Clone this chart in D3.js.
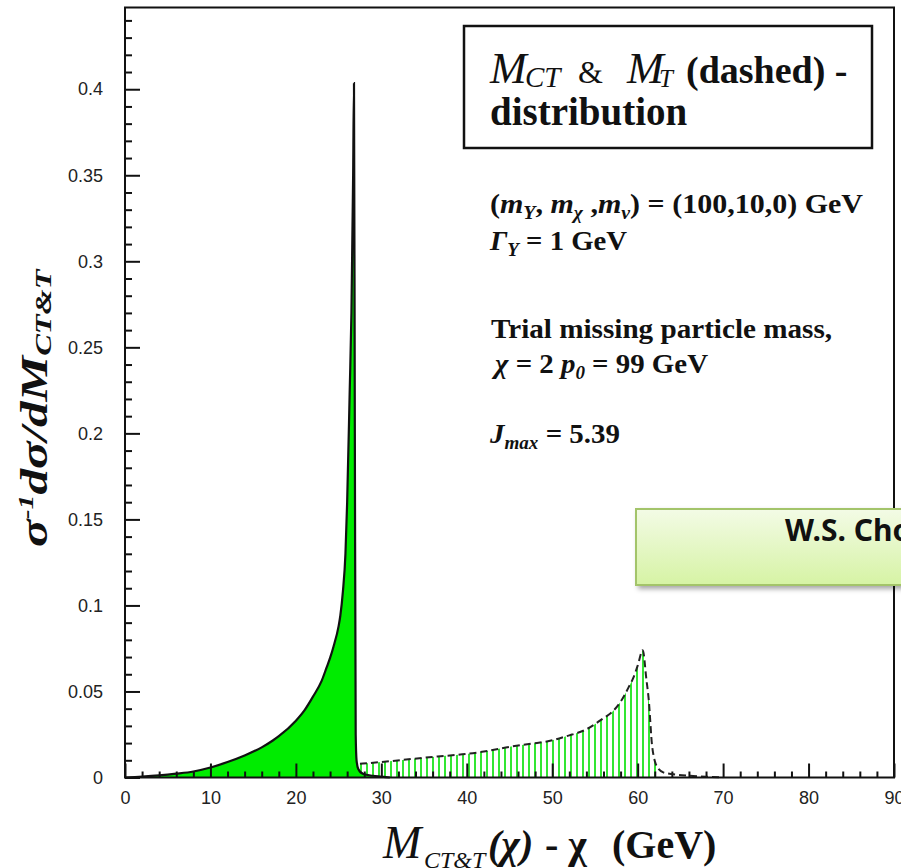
<!DOCTYPE html>
<html>
<head>
<meta charset="utf-8">
<script src="https://cdn.jsdelivr.net/npm/d3@7.9.0/dist/d3.min.js"></script>
<style>
  body { margin: 0; background: #fff; }
  svg { display: block; }
</style>
</head>
<body>
<svg id="chart" width="901" height="868"></svg>
<script>
// M_CT distribution (solid line, green fill)
const mctX = [0, 2, 4, 6, 8, 10, 12, 14, 16, 17.3, 18, 20, 21, 22, 23, 23.6, 24, 24.4, 25, 25.2, 25.5, 25.8, 26.0, 26.3, 26.5, 26.7, 26.8, 26.9, 27.0, 27.1, 27.3, 27.9, 29, 30, 31];
const mctY = [0, 0.0005, 0.0012, 0.0022, 0.0035, 0.0058, 0.009, 0.0128, 0.0175, 0.0215, 0.024, 0.033, 0.039, 0.047, 0.056, 0.064, 0.0695, 0.076, 0.088, 0.094, 0.108, 0.13, 0.16, 0.225, 0.27, 0.35, 0.4035, 0.2, 0.025, 0.01, 0.005, 0.002, 0.001, 0.0005, 0];

// M_T distribution (dashed line, hatched)
const mtX = [27.5, 30, 32.5, 35, 37.5, 40, 42.5, 45, 47.5, 50, 52, 53, 54, 55, 56, 57, 58, 59, 59.5, 60, 60.6, 61, 61.3, 61.7, 62.3, 63, 64, 66, 68, 70];
const mtY = [0.008, 0.009, 0.0102, 0.0115, 0.0126, 0.0137, 0.0155, 0.0178, 0.0196, 0.0216, 0.0245, 0.026, 0.028, 0.031, 0.0345, 0.038, 0.044, 0.053, 0.058, 0.065, 0.074, 0.058, 0.045, 0.018, 0.006, 0.003, 0.002, 0.001, 0.0005, 0];

// axis ticks
const xMajor = [0, 10, 20, 30, 40, 50, 60, 70, 80, 90];
const xMinor = d3.range(0, 91, 2).filter(v => v % 10 !== 0);
const yMajor = [0, 0.05, 0.1, 0.15, 0.2, 0.25, 0.3, 0.35, 0.4];
const yMinor = d3.range(1, 45).map(v => v / 100).filter(v => Math.round(v * 100) % 5 !== 0);

const svg = d3.select("#chart");
const pLeft = 125, pRight = 894, pTop = 7.5, pBottom = 777.5;

const x = d3.scaleLinear().domain([0, 90]).range([pLeft, pRight]);
const y = d3.scaleLinear().domain([0, 0.4475]).range([pBottom, pTop]);

svg.append("rect").attr("width", 901).attr("height", 868).attr("fill", "#fff");

const defs = svg.append("defs");
defs.append("pattern")
    .attr("id", "hatch")
    .attr("patternUnits", "userSpaceOnUse")
    .attr("width", 6).attr("height", 10)
    .append("rect")
    .attr("x", 0).attr("y", 0).attr("width", 2).attr("height", 10)
    .attr("fill", "#33e633");

const grad = defs.append("linearGradient")
    .attr("id", "boxGrad").attr("x1", 0).attr("y1", 0).attr("x2", 0).attr("y2", 1);
grad.append("stop").attr("offset", "0%").attr("stop-color", "#f3fbe6");
grad.append("stop").attr("offset", "100%").attr("stop-color", "#d6f3a4");

const shadow = defs.append("filter").attr("id", "shadow")
    .attr("x", "-10%").attr("y", "-20%").attr("width", "130%").attr("height", "150%");
shadow.append("feDropShadow")
    .attr("dx", 3).attr("dy", 3).attr("stdDeviation", 2.5)
    .attr("flood-color", "#000").attr("flood-opacity", 0.35);

const mct = mctX.map((v, i) => [v, mctY[i]]);
const mt = mtX.map((v, i) => [v, mtY[i]]);

const area = d3.area()
    .x(d => x(d[0])).y0(y(0)).y1(d => y(d[1]))
    .curve(d3.curveMonotoneX);
const line = d3.line()
    .x(d => x(d[0])).y(d => y(d[1]))
    .curve(d3.curveMonotoneX);

// hatched M_T region
svg.append("path")
    .attr("d", area(mt.filter(d => d[0] <= 62.3)))
    .attr("fill", "url(#hatch)");

// filled M_CT region
svg.append("path")
    .attr("d", area(mct))
    .attr("fill", "#00ec00");

// axes with inward ticks
const gx = svg.append("g").attr("transform", `translate(0,${pBottom})`);
gx.call(d3.axisBottom(x).tickValues(xMajor).tickSize(-14).tickPadding(14).tickFormat(d3.format("d")));
const gxm = svg.append("g").attr("transform", `translate(0,${pBottom})`);
gxm.call(d3.axisBottom(x).tickValues(xMinor).tickSize(-6).tickFormat(""));

const gy = svg.append("g").attr("transform", `translate(${pLeft},0)`);
gy.call(d3.axisLeft(y).tickValues(yMajor).tickSize(-15).tickPadding(22)
    .tickFormat(d => d === 0 ? "0" : String(+d.toFixed(2))));
const gym = svg.append("g").attr("transform", `translate(${pLeft},0)`);
gym.call(d3.axisLeft(y).tickValues(yMinor).tickSize(-7).tickFormat(""));

svg.selectAll(".domain").remove();
svg.selectAll(".tick line").attr("stroke", "#111").attr("stroke-width", 2);
svg.selectAll(".tick text")
    .attr("font-family", "Liberation Sans, Arial, sans-serif")
    .attr("font-size", 18)
    .attr("fill", "#222");

// curves
svg.append("path")
    .attr("d", line(mct))
    .attr("fill", "none").attr("stroke", "#111").attr("stroke-width", 2.2);
svg.append("path")
    .attr("d", line(mt))
    .attr("fill", "none").attr("stroke", "#222").attr("stroke-width", 2)
    .attr("stroke-dasharray", "7,4");

// frame
svg.append("rect")
    .attr("x", pLeft).attr("y", pTop)
    .attr("width", pRight - pLeft).attr("height", pBottom - pTop)
    .attr("fill", "none").attr("stroke", "#111").attr("stroke-width", 2);

// legend box
svg.append("rect")
    .attr("x", 464).attr("y", 26).attr("width", 408).attr("height", 122)
    .attr("fill", "#fff").attr("stroke", "#111").attr("stroke-width", 2.5);

const serif = "Liberation Serif, Times New Roman, serif";
function txt(xp, yp, s, size, opts = {}) {
    return svg.append("text")
        .attr("x", xp).attr("y", yp)
        .attr("font-family", serif)
        .attr("font-size", size)
        .attr("font-weight", opts.weight || "bold")
        .attr("font-style", opts.italic ? "italic" : "normal")
        .attr("fill", "#111")
        .text(s);
}

txt(490, 83, "M", 44, { italic: true, weight: "normal" });
txt(525, 87, "CT", 29, { italic: true, weight: "normal" });
txt(578, 83, "&", 32, { weight: "normal" });
txt(627, 83, "M", 44, { italic: true, weight: "normal" });
txt(659, 87, "T", 25, { italic: true, weight: "normal" });
txt(686, 83, "(dashed) -", 38);
txt(490, 125, "distribution", 39);

// annotations (stretched horizontally to the reference widths)
function rich(xp, yp, parts, size, width) {
    const t = svg.append("text")
        .attr("x", xp).attr("y", yp)
        .attr("font-family", serif)
        .attr("font-size", size)
        .attr("font-weight", "bold")
        .attr("fill", "#111");
    let shift = 0;
    parts.forEach(p => {
        const s = t.append("tspan").text(p.t);
        const want = p.sub ? 6 : 0;
        if (want !== shift) { s.attr("dy", want - shift); shift = want; }
        if (p.sub) s.attr("font-size", size * 0.66);
        if (p.i) s.attr("font-style", "italic");
    });
    if (width) t.attr("textLength", width).attr("lengthAdjust", "spacingAndGlyphs");
    return t;
}

rich(490, 213, [
    { t: "(" }, { t: "m", i: 1 }, { t: "Y", i: 1, sub: 1 }, { t: ", " },
    { t: "m", i: 1 }, { t: "χ", i: 1, sub: 1 }, { t: " ," },
    { t: "m", i: 1 }, { t: "ν", i: 1, sub: 1 }, { t: ") = (100,10,0) GeV" }
], 27, 373);
rich(490, 250, [{ t: "Γ", i: 1 }, { t: "Y", i: 1, sub: 1 }, { t: " = 1 GeV" }], 27, 137);
rich(491, 338, [{ t: "Trial missing particle mass," }], 28, 341);
rich(495, 373, [
    { t: "χ", i: 1 }, { t: " = 2 " }, { t: "p", i: 1 }, { t: "0", i: 1, sub: 1 }, { t: " = 99 GeV" }
], 27, 213);
rich(490, 443, [{ t: "J", i: 1 }, { t: "max", i: 1, sub: 1 }, { t: " = 5.39" }], 27, 130);

// y axis label (rotated, stretched along its length)
const yl = svg.append("text")
    .attr("transform", "translate(47,547) rotate(-90) scale(1.35,1)")
    .attr("font-family", serif)
    .attr("font-size", 38)
    .attr("font-weight", "bold")
    .attr("font-style", "italic")
    .attr("fill", "#111");
yl.append("tspan").text("σ");
yl.append("tspan").attr("font-size", 22).attr("dy", -14).text("-1");
yl.append("tspan").attr("dy", 14).text("dσ/dM");
yl.append("tspan").attr("font-size", 24).attr("dy", 4).text("CT&T");

// x axis label
txt(383, 858, "M", 46, { italic: true, weight: "normal" });
txt(424, 868, "CT&T", 24, { italic: true, weight: "normal" });
txt(488, 858, "(χ)", 40, { italic: true });
txt(545, 858, "- χ", 40);
txt(612, 858, "(GeV)", 40);

// author note box
svg.append("rect")
    .attr("x", 636).attr("y", 509).attr("width", 300).attr("height", 76)
    .attr("fill", "url(#boxGrad)")
    .attr("stroke", "#a3c46a").attr("stroke-width", 2)
    .attr("filter", "url(#shadow)");
svg.append("text")
    .attr("x", 785).attr("y", 541)
    .attr("font-family", "Noto Sans, Open Sans, sans-serif")
    .attr("font-size", 30)
    .attr("font-weight", "bold")
    .attr("fill", "#111")
    .text("W.S. Cho");
</script>
</body>
</html>
